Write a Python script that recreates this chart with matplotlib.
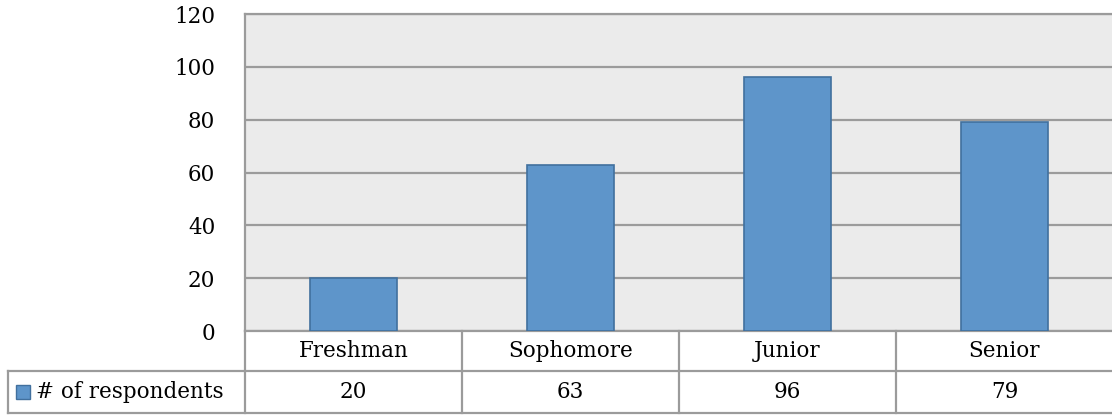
import matplotlib
matplotlib.use("Agg")
import matplotlib.pyplot as plt
from matplotlib.lines import Line2D
from matplotlib.patches import Rectangle

categories = ["Freshman", "Sophomore", "Junior", "Senior"]
respondents = [20, 63, 96, 79]
series_name = "# of respondents"
y_ticks = [0, 20, 40, 60, 80, 100, 120]

W, H = 1112, 415
FS = 15.5
plt.rcParams['font.family'] = ['DejaVu Serif']

fig = plt.figure(figsize=(W / 100, H / 100), dpi=100)

left_px, right_px, top_px, bottom_px = 245, 1113, 14, 331
ax = fig.add_axes([left_px / W, 1 - bottom_px / H,
                   (right_px - left_px) / W, (bottom_px - top_px) / H])

bar_color = "#5E95CA"
edge_color = "#41709E"
grid_color = "#9B9B9B"

ax.set_facecolor("#EBEBEB")
x = list(range(len(categories)))
ax.bar(x, respondents, width=0.4, color=bar_color, edgecolor=edge_color,
       linewidth=1.2, zorder=3)
ax.set_xlim(-0.5, len(categories) - 0.5)
ax.set_ylim(0, 120)
ax.set_yticks(y_ticks)
ax.set_yticklabels([str(t) for t in y_ticks], fontsize=FS)
ax.tick_params(axis="y", length=0, pad=21.5)
ax.set_xticks([])
ax.yaxis.grid(True, color=grid_color, linewidth=1.6, zorder=1)
for side in ("top", "left", "bottom"):
    ax.spines[side].set_color(grid_color)
    ax.spines[side].set_linewidth(1.6)
ax.spines["right"].set_visible(False)


def px(xp, yp):
    return xp / W, 1 - yp / H


def hline(x0, x1, y):
    (a, b), (c, d) = px(x0, y), px(x1, y)
    fig.add_artist(Line2D([a, c], [b, d], color=grid_color, linewidth=1.6))


def vline(xp, y0, y1):
    (a, b), (c, d) = px(xp, y0), px(xp, y1)
    fig.add_artist(Line2D([a, c], [b, d], color=grid_color, linewidth=1.6))


# data table beneath the plot
row1_top, row1_bot, row2_bot = 331, 371, 413
cell_w = (right_px - left_px) / len(categories)
hline(8, W, row1_bot)
hline(8, W, row2_bot)
vline(8, row1_bot, row2_bot)
for i in range(len(categories) + 1):
    vline(left_px + i * cell_w, row1_top, row2_bot)

for i, (cat, val) in enumerate(zip(categories, respondents)):
    cx = left_px + (i + 0.5) * cell_w
    fig.text(*px(cx, (row1_top + row1_bot) / 2), cat, ha="center",
             va="center", fontsize=FS)
    fig.text(*px(cx, (row1_bot + row2_bot) / 2), str(val), ha="center",
             va="center", fontsize=FS)

# legend key in the row header
kx, ky = px(16, 399)
fig.add_artist(Rectangle((kx, ky), 14 / W, 14 / H, transform=fig.transFigure,
                         facecolor=bar_color, edgecolor=edge_color, linewidth=1))
fig.text(*px(36, (row1_bot + row2_bot) / 2), series_name, ha="left",
         va="center", fontsize=FS)

fig.savefig("out.png", dpi=100, facecolor="white")
